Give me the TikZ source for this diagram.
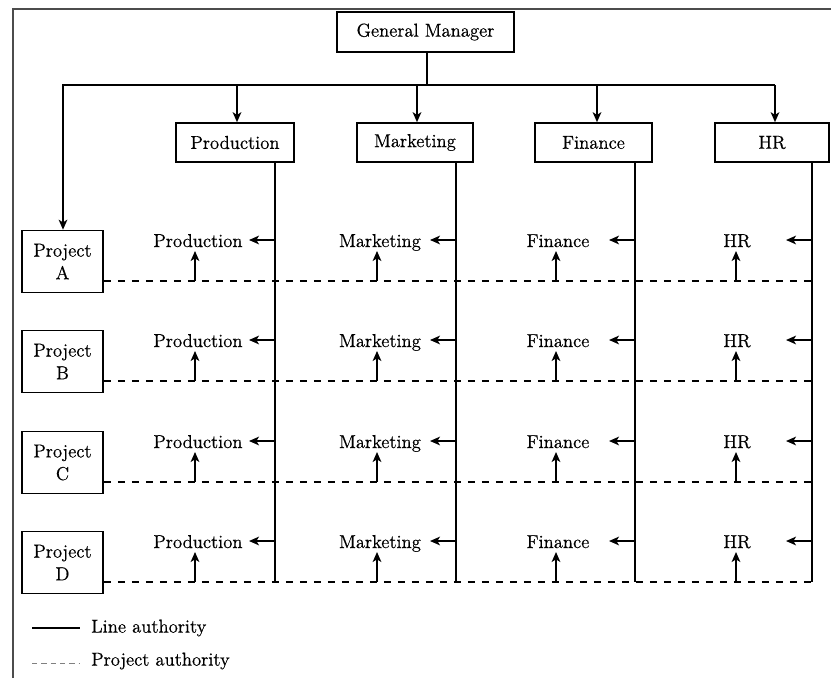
\documentclass[tikz,border=0pt]{standalone}
\usepackage{fontspec}
\setmainfont{Latin Modern Roman}[FakeBold=0.6]
\usetikzlibrary{arrows.meta,calc}
\begin{document}
\begin{tikzpicture}[x=0.75pt,y=-0.75pt,
  every node/.style={font=\fontsize{14}{17}\selectfont},
  box/.style={draw,line width=1.2pt,inner sep=0pt,align=center},
  dept/.style={box,minimum height=29.25pt},
  pbox/.style={box,minimum width=60.75pt,minimum height=46.5pt},
  line/.style={line width=1.2pt},
  arr/.style={line width=1.2pt,-{Stealth[length=7.5pt,width=6.5pt,inset=2pt]}},
  proj/.style={line width=1.7pt,dash pattern=on 5.2pt off 5.3pt},
  lab/.style={anchor=base,inner sep=0pt}]
\useasboundingbox (0,0) rectangle (831,678);
\draw[gray!60!black,line width=1.5pt] (13,678) -- (13,9) -- (831,9);

% top
\node[box,minimum width=132.75pt,minimum height=30pt] (gm) at (425.5,32) {General Manager};
\node[dept,minimum width=88.5pt] (prod) at (235,142.5) {Production};
\node[dept,minimum width=87pt] (mkt) at (415,142.5) {Marketing};
\node[dept,minimum width=87.75pt] (fin) at (593.5,142.5) {Finance};
\node[dept,minimum width=85.5pt] (hr) at (772,142.5) {HR};

% projects
\node[pbox] (pA) at (62.5,261.5) {Project\\A};
\node[pbox] (pB) at (62.5,361.5) {Project\\B};
\node[pbox] (pC) at (62.5,462.5) {Project\\C};
\node[pbox] (pD) at (62.5,562.5) {Project\\D};

\coordinate (bus) at (427,85);
\coordinate (cA) at (63,85);
\coordinate (cP) at (237,85);
\coordinate (cM) at (417,85);
\coordinate (cF) at (597,85);
\coordinate (cH) at (775,85);
\draw[line] (gm.south -| bus) -- (bus);
\draw[arr] (cH) -- (cA) -- (pA.north -| cA);
\draw[arr] (cP) -- (prod.north -| cP);
\draw[arr] (cM) -- (mkt.north -| cM);
\draw[arr] (cF) -- (fin.north -| cF);
\draw[arr] (cH) -- (hr.north -| cH);

% vertical line authority
\coordinate (vP) at (275,582);
\coordinate (vM) at (456,582);
\coordinate (vF) at (635,582);
\coordinate (vH) at (812,582);
\draw[line] (prod.south -| vP) -- (vP);
\draw[line] (mkt.south -| vM) -- (vM);
\draw[line] (fin.south -| vF) -- (vF);
\draw[line] (hr.south -| vH) -- (vH);

% rows
\foreach \r/\d in {A/281,B/381,C/482,D/582}{
  \coordinate (e\r) at (812,\d);
  \draw[proj] (p\r.east |- e\r) -- (e\r);
  \foreach \c/\t/\lx/\ux/\vx in {P/Production/198/195/275,M/Marketing/380/377/456,F/Finance/558/556/635,H/HR/737/736/812}{
    \pgfmathsetmacro{\yl}{\d-34}
    \pgfmathsetmacro{\yu}{\d-30}
    \pgfmathsetmacro{\ya}{\d-41}
    \pgfmathsetmacro{\xa}{\vx-26}
    \node[lab] (l\r\c) at (\lx,\yl) {\t};
    \coordinate (u\r\c) at (\ux,\yu);
    \draw[arr] (u\r\c |- e\r) -- (u\r\c);
    \coordinate (s\r\c) at (\vx,\ya);
    \coordinate (a\r\c) at (\xa,\ya);
    \draw[arr] (s\r\c) -- (a\r\c);
  }
}

% legend
\coordinate (la) at (32,628);
\coordinate (lb) at (80,628);
\draw[line] (la) -- (lb);
\node[anchor=west,inner sep=0pt] (leg1) at (91,628) {Line authority};
\coordinate (lc) at (32,663);
\coordinate (ld) at (80,663);
\draw[gray,line width=0.7pt,dash pattern=on 4pt off 3pt] (lc) -- (ld);
\node[anchor=west,inner sep=0pt] (leg2) at (91,661) {Project authority};
\end{tikzpicture}
\end{document}
